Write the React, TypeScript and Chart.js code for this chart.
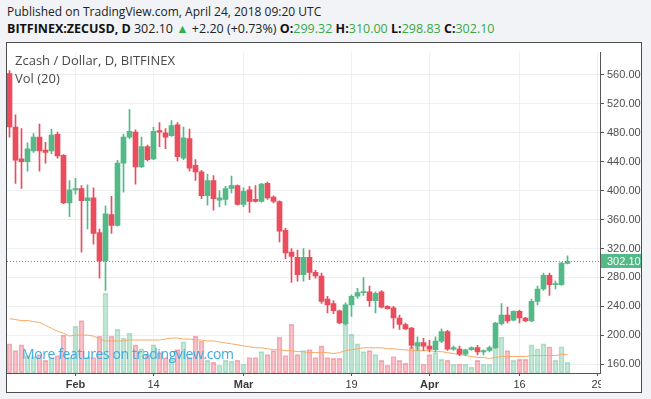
import React, { useEffect, useRef } from 'react';
import { Chart, registerables } from 'chart.js';
Chart.register(...registerables);

// ---- data (daily candles from 2018-01-21 to 2018-04-24) ----
const START_DATE = '2018-01-21';
const opens = [
  562, 488, 444, 440, 455, 474, 456, 455, 478, 449,
  383, 401, 403, 386, 390, 342, 303, 367, 352, 438,
  474, 481, 433, 461, 444, 483, 480, 476, 491, 445,
  472, 435, 426, 393, 414, 387, 388, 403, 407, 381,
  401, 388, 385, 410, 391, 385, 345, 315, 308, 284,
  308, 287, 282, 250, 244, 234, 216, 242, 254, 259,
  260, 248, 260, 240, 238, 224, 215, 210, 185, 190,
  185, 180, 192, 205, 181, 181, 174, 180, 183, 177,
  179, 183, 216, 228, 221, 233, 224, 220, 247, 264,
  283, 270, 270, 299.32,
];
const highs = [
  566, 505, 486, 466, 479, 492, 467, 485, 481, 450,
  414, 417, 407, 408, 404, 347, 379, 392, 442, 478,
  512, 484, 474, 463, 488, 494, 486, 497, 494, 488,
  485, 443, 428, 423, 421, 400, 406, 420, 408, 404,
  406, 407, 410, 412, 393, 386, 348, 320, 318, 320,
  318, 290, 286, 254, 248, 235, 245, 256, 265, 280,
  268, 260, 262, 241, 240, 228, 217, 211, 198, 196,
  193, 198, 209, 207, 185, 185, 181, 184, 186, 180,
  185, 218, 244, 239, 234, 235, 225, 250, 268, 286,
  286, 275, 301, 310.0,
];
const lows = [
  474, 410, 403, 427, 453, 427, 438, 451, 445, 382,
  364, 395, 315, 347, 326, 279, 262, 341, 351, 398,
  472, 409, 432, 441, 443, 461, 458, 475, 441, 443,
  427, 414, 389, 380, 373, 378, 380, 397, 380, 378,
  370, 384, 384, 388, 383, 329, 306, 273, 275, 275,
  277, 279, 244, 231, 230, 216, 214, 226, 251, 255,
  240, 231, 238, 236, 210, 208, 208, 182, 179, 179,
  177, 177, 190, 179, 179, 172, 172, 179, 173, 173,
  177, 182, 214, 217, 220, 217, 219, 219, 242, 262,
  255, 264, 269, 298.83,
];
const closes = [
  488, 442, 440, 458, 474, 455, 453, 477, 448, 383,
  401, 403, 386, 390, 341, 303, 368, 352, 438, 474,
  482, 433, 461, 443, 482, 481, 474, 490, 447, 473,
  431, 426, 393, 414, 389, 390, 403, 407, 381, 399,
  385, 385, 409, 390, 385, 344, 314, 309, 284, 308,
  287, 282, 247, 242, 234, 217, 242, 254, 259, 260,
  248, 258, 239, 237, 224, 215, 209, 186, 190, 185,
  181, 192, 205, 181, 183, 174, 180, 183, 177, 179,
  183, 217, 228, 220, 233, 224, 220, 247, 264, 283,
  270, 271, 300, 302.1,
];
// volume (thousand ZEC)
const volumes = [
  30, 23, 29, 18, 17, 19, 13, 16, 18, 39,
  16, 48, 54, 16, 16, 38, 82, 38, 45, 36,
  41, 29, 25, 19, 29, 21, 16, 14, 24, 32,
  16, 38, 33, 13, 11, 8, 13, 12, 13, 9,
  16, 16, 22, 19, 23, 37, 18, 50, 19, 23,
  24, 16, 28, 16, 15, 15, 53, 40, 30, 22,
  23, 19, 13, 8, 17, 13, 10, 27, 27, 9,
  19, 21, 14, 13, 9, 9, 9, 6, 13, 9,
  9, 26, 37, 23, 13, 14, 14, 29, 25, 30,
  27, 13, 27, 11,
];
// Vol (20) moving average as drawn
const volumeMA = [
  56, 55, 54, 54, 53, 52, 49, 46, 43, 41,
  38, 39, 39, 39, 38, 35, 33, 33, 33, 33,
  34, 34, 34, 34, 34, 34, 35, 36, 36, 35,
  35, 34, 34, 33, 33, 32, 31, 30, 29, 28,
  27, 26, 26, 25, 24, 24, 23, 23, 22, 22,
  21, 21, 21, 21, 20, 21, 23, 24, 25, 26,
  26, 26, 26, 25, 25, 24, 24, 23, 23, 23,
  23, 22, 22, 21, 20, 19, 18, 17, 16, 16,
  15, 16, 17, 17, 17, 17, 17, 18, 18, 18,
  18, 18, 19, 19,
];
const timeTickDates = ['2018-02-01', '2018-02-14', '2018-03-01', '2018-03-19', '2018-04-01', '2018-04-16', '2018-04-29'];
const timeTickLabels = ['Feb', '14', 'Mar', '19', 'Apr', '16', '29'];
const priceTicks = [160, 200, 240, 280, 320, 360, 400, 440, 480, 520, 560];
const LAST_PRICE = 302.1;

// ---- style ----
const UP = '#53b987';
const DOWN = '#eb4d5c';
const UP_VOL = 'rgba(83,185,135,0.30)';
const DOWN_VOL = 'rgba(235,77,92,0.30)';
const UP_VOL_B = 'rgba(83,185,135,0.42)';
const DOWN_VOL_B = 'rgba(235,77,92,0.42)';
const GRID = '#edf0f2';
const AXIS = '#555555';
const PAGE_BG = '#f1f3f6';
const HEAD_FONT = "'Open Sans', 'Noto Sans', sans-serif";
const AXIS_FONT = "'Liberation Sans', Arial, sans-serif";
const GREEN_TXT = '#3aa93f';

const dayIndex = (d: string) =>
  Math.round((Date.parse(d + 'T00:00:00Z') - Date.parse(START_DATE + 'T00:00:00Z')) / 86400000);

export default function App() {
  const ref = useRef<HTMLCanvasElement>(null);

  useEffect(() => {
    document.body.style.margin = '0';
    document.body.style.background = PAGE_BG;
    const up = closes.map((c, i) => c >= opens[i]);
    const tickIdx = timeTickDates.map(dayIndex);
    const xMin = -2.5 / 6;
    const xMax = xMin + 593 / 6;

    const lastPricePlugin = {
      id: 'lastPrice',
      afterDatasetsDraw(chart: any) {
        const { ctx, chartArea, scales } = chart;
        const y = Math.round(scales.y.getPixelForValue(LAST_PRICE)) + 0.5;
        ctx.save();
        ctx.strokeStyle = '#3fae7a';
        ctx.lineWidth = 1;
        ctx.setLineDash([1, 2]);
        ctx.beginPath();
        ctx.moveTo(chartArea.left, y);
        ctx.lineTo(chartArea.right, y);
        ctx.stroke();
        ctx.restore();
      },
      afterDraw(chart: any) {
        const { ctx, chartArea, scales, width, height } = chart;
        ctx.save();
        ctx.fillStyle = '#ffffff';
        ctx.fillRect(chartArea.right + 1, chartArea.bottom + 1, width - chartArea.right, height - chartArea.bottom);
        const y = Math.round(scales.y.getPixelForValue(LAST_PRICE));
        ctx.fillStyle = UP;
        ctx.fillRect(chartArea.right + 1, y - 7, width - chartArea.right - 1, 14);
        ctx.fillStyle = '#ffffff';
        ctx.font = `11px ${AXIS_FONT}`;
        ctx.textBaseline = 'middle';
        ctx.textAlign = 'left';
        ctx.fillText(LAST_PRICE.toFixed(2), chartArea.right + 7, y + 0.5);
        ctx.restore();
      },
    };

    const chart = new Chart(ref.current as HTMLCanvasElement, {
      type: 'bar',
      data: {
        datasets: [
          {
            type: 'bar',
            label: 'Volume',
            yAxisID: 'yv',
            data: volumes.map((v, i) => ({ x: i, y: v })),
            backgroundColor: up.map((u) => (u ? UP_VOL : DOWN_VOL)),
            borderColor: up.map((u) => (u ? UP_VOL_B : DOWN_VOL_B)),
            borderWidth: 1,
            borderSkipped: false,
            barThickness: 5,
            grouped: false,
            order: 4,
          } as any,
          {
            type: 'line',
            label: 'Vol MA 20',
            yAxisID: 'yv',
            data: volumeMA.map((v, i) => ({ x: i, y: v })),
            borderColor: '#f7a968',
            borderWidth: 1,
            pointRadius: 0,
            tension: 0,
            order: 3,
          } as any,
          {
            type: 'bar',
            label: 'Wick',
            yAxisID: 'y',
            data: lows.map((l, i) => ({ x: i, y: [l, highs[i]] })),
            backgroundColor: up.map((u) => (u ? UP : DOWN)),
            barThickness: 1,
            grouped: false,
            order: 2,
          } as any,
          {
            type: 'bar',
            label: 'Body',
            yAxisID: 'y',
            data: opens.map((o, i) => ({ x: i, y: [o, closes[i]] })),
            backgroundColor: up.map((u) => (u ? UP : DOWN)),
            barThickness: 5,
            minBarLength: 1,
            grouped: false,
            order: 1,
          } as any,
        ],
      },
      options: {
        animation: false,
        responsive: false,
        events: [],
        layout: { padding: 0 },
        plugins: { legend: { display: false }, tooltip: { enabled: false } },
        scales: {
          x: {
            type: 'linear',
            min: xMin,
            max: xMax,
            offset: false,
            afterBuildTicks: (s: any) => {
              s.ticks = tickIdx.map((v) => ({ value: v }));
            },
            afterFit: (s: any) => {
              s.height = 19;
            },
            grid: { color: GRID, tickColor: AXIS, tickLength: 3, offset: false },
            border: { display: true, color: AXIS, width: 1 },
            ticks: {
              autoSkip: false,
              maxRotation: 0,
              padding: 2,
              color: '#3a3a3a',
              font: (c: any) => ({
                family: AXIS_FONT,
                size: 11,
                weight: isNaN(Number(timeTickLabels[c.index])) ? 'bold' : 'normal',
              }),
              callback: (_v: any, i: number) => timeTickLabels[i],
            },
          },
          y: {
            type: 'linear',
            position: 'right',
            min: 147.9,
            max: 590.9,
            afterBuildTicks: (s: any) => {
              s.ticks = priceTicks.map((v) => ({ value: v }));
            },
            afterFit: (s: any) => {
              s.width = 41;
            },
            grid: { color: GRID, tickColor: AXIS, tickLength: 4 },
            border: { display: true, color: AXIS, width: 1 },
            ticks: {
              padding: 3,
              color: '#4f4f4f',
              font: { family: AXIS_FONT, size: 11 },
              callback: (v: any) => Number(v).toFixed(2),
            },
          },
          yv: {
            type: 'linear',
            display: false,
            min: 0,
            max: 330,
          },
        },
      } as any,
      plugins: [lastPricePlugin],
    });
    return () => chart.destroy();
  }, []);

  const b = { fontWeight: 700, color: '#111' } as const;
  const g = { color: GREEN_TXT } as const;

  return (
    <div
      style={{
        position: 'relative',
        width: 651,
        height: 399,
        background: PAGE_BG,
        overflow: 'hidden',
        fontFamily: HEAD_FONT,
      }}
    >
      <div style={{ position: 'absolute', left: 7, top: 3, fontSize: 12, lineHeight: '18px', color: '#222', whiteSpace: 'nowrap' }}>
        Published on TradingView.com, April 24, 2018 09:20 UTC
      </div>
      <div style={{ position: 'absolute', left: 7, top: 20, fontSize: 12.5, lineHeight: '18px', color: '#222', whiteSpace: 'nowrap' }}>
        <span style={b}>BITFINEX:ZECUSD, D</span>
        <span> 302.10 </span>
        <span style={{ color: '#2eb24a' }}>▲</span>
        <span> +2.20 (+0.73%) </span>
        <span style={b}>O:</span>
        <span style={g}>299.32</span>{' '}
        <span style={b}>H:</span>
        <span style={g}>310.00</span>{' '}
        <span style={b}>L:</span>
        <span style={g}>298.83</span>{' '}
        <span style={b}>C:</span>
        <span style={g}>302.10</span>
      </div>
      <div
        style={{
          position: 'absolute',
          left: 6,
          top: 42,
          width: 634,
          height: 349,
          border: '1px solid #4d4d4d',
          background: '#fff',
        }}
      >
        <canvas ref={ref} width={634} height={349} style={{ display: 'block' }} />
        <div style={{ position: 'absolute', left: 8, top: 8, fontSize: 13, lineHeight: '18px', color: '#4a4a4a', whiteSpace: 'nowrap' }}>
          Zcash / Dollar, D, BITFINEX
        </div>
        <div style={{ position: 'absolute', left: 8, top: 26, fontSize: 13, lineHeight: '18px', color: '#4a4a4a', whiteSpace: 'nowrap' }}>
          Vol (20)
        </div>
        <div
          style={{
            position: 'absolute',
            left: 15,
            top: 301,
            fontSize: 14,
            letterSpacing: -0.4,
            lineHeight: '20px',
            color: '#3eaade',
            whiteSpace: 'nowrap',
          }}
        >
          More features on tradingview.com
        </div>
      </div>
    </div>
  );
}
